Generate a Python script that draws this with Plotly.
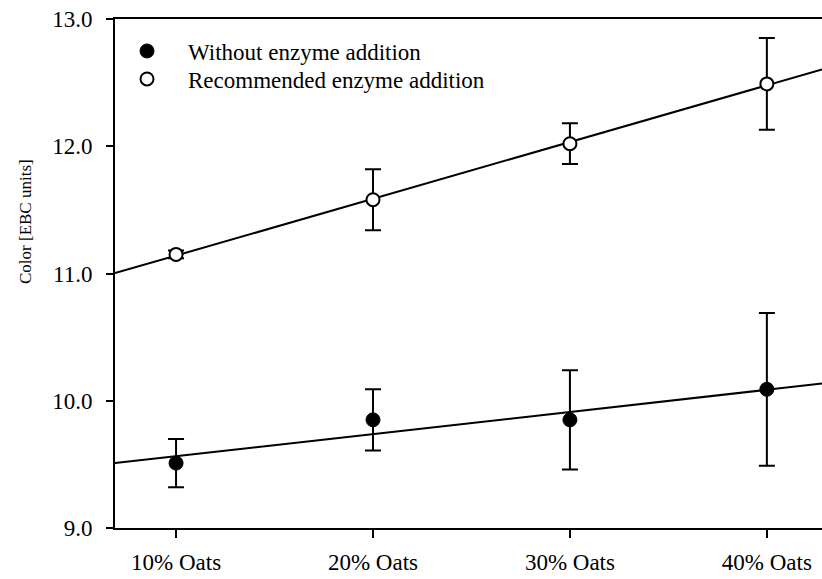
import numpy as np
import plotly.graph_objects as go

# Oat share categories
categories = ["10% Oats", "20% Oats", "30% Oats", "40% Oats"]
x_pos = [0, 1, 2, 3]

# Mean colour and standard deviation for each treatment
without_mean = [9.51, 9.85, 9.85, 10.09]
without_sd = [0.19, 0.24, 0.39, 0.60]
recommended_mean = [11.15, 11.58, 12.02, 12.49]
recommended_sd = [0.03, 0.24, 0.16, 0.36]

x_range = [-0.31, 3.28]
y_range = [9.0, 13.0]
y_ticks = [9.0, 10.0, 11.0, 12.0, 13.0]

FONT = "Liberation Serif"

fig = go.Figure()

# Linear regression lines across the full x range
xl = np.array(x_range)
for means in (recommended_mean, without_mean):
    slope, intercept = np.polyfit(x_pos, means, 1)
    fig.add_trace(go.Scatter(
        x=xl, y=slope * xl + intercept, mode="lines",
        line=dict(color="black", width=2), showlegend=False, hoverinfo="skip",
    ))

fig.add_trace(go.Scatter(
    x=x_pos, y=without_mean, mode="markers", name="Without enzyme addition",
    legend="legend",
    marker=dict(symbol="circle", size=14, color="black", line=dict(color="black", width=1)),
    error_y=dict(type="data", array=without_sd, visible=True, color="black", thickness=2, width=8),
))
fig.add_trace(go.Scatter(
    x=x_pos, y=recommended_mean, mode="markers", name="Recommended enzyme addition",
    legend="legend2",
    marker=dict(symbol="circle", size=13, color="white", line=dict(color="black", width=2)),
    error_y=dict(type="data", array=recommended_sd, visible=True, color="black", thickness=2, width=8),
))

# Y-axis title placed as a rotated annotation
fig.add_annotation(
    text="Color [EBC units]", textangle=-90,
    xref="paper", yref="paper", x=(25 - 115) / 707, y=(528 - 222) / 509,
    xanchor="center", yanchor="middle", showarrow=False,
    font=dict(family=FONT, size=17, color="black"),
)

legend_common = dict(
    x=-9 / 707, xanchor="left", yanchor="middle",
    bgcolor="rgba(0,0,0,0)", font=dict(size=23, family=FONT, color="black"),
    itemwidth=72,
)

fig.update_layout(
    width=822, height=579,
    margin=dict(l=115, r=0, t=19, b=51),
    plot_bgcolor="white", paper_bgcolor="white",
    font=dict(family=FONT, size=23, color="black"),
    showlegend=True,
    legend=dict(y=(528 - 51) / 509, **legend_common),
    legend2=dict(y=(528 - 79) / 509, **legend_common),
    xaxis=dict(
        range=x_range, tickvals=x_pos, ticktext=categories,
        showline=True, linecolor="black", linewidth=2, mirror=True,
        ticks="outside", ticklen=8, tickwidth=2, tickcolor="black",
        showgrid=False, zeroline=False, ticklabelstandoff=4,
        tickfont=dict(family=FONT, size=23, color="black"),
    ),
    yaxis=dict(
        range=y_range, tickvals=y_ticks, ticktext=[f"{v:.1f}" for v in y_ticks],
        showline=True, linecolor="black", linewidth=2,
        ticks="outside", ticklen=7, tickwidth=2, tickcolor="black",
        showgrid=False, zeroline=False, ticklabelstandoff=9,
        tickfont=dict(family=FONT, size=23, color="black"),
    ),
)

fig.write_html("out.html")
